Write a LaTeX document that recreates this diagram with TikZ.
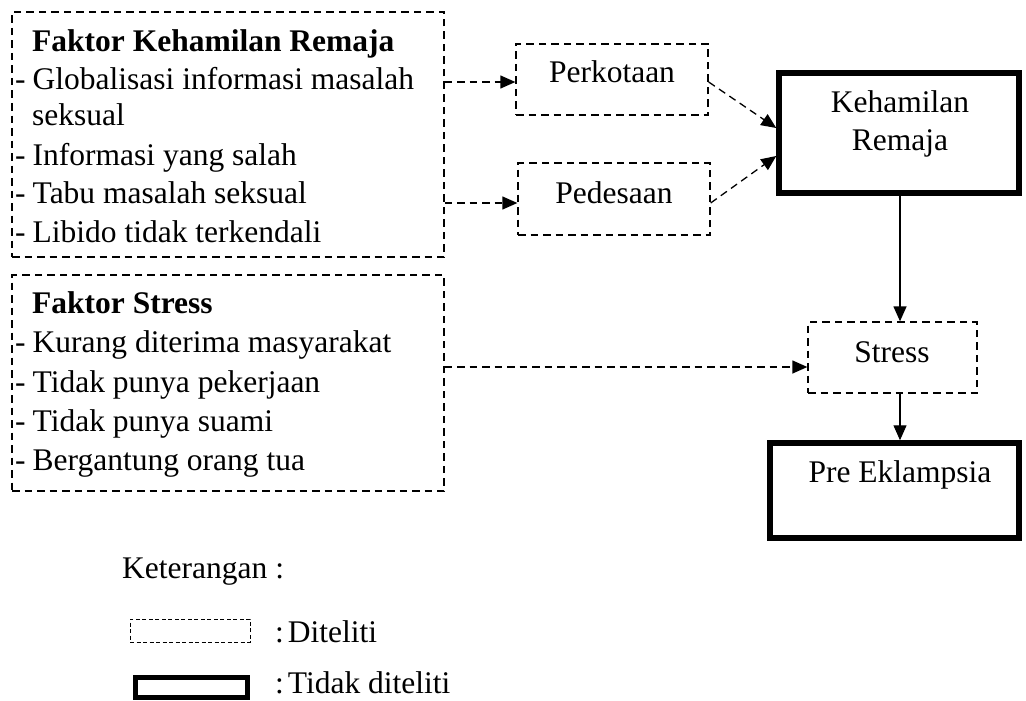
\documentclass[tikz,border=0pt]{standalone}
\usepackage{fontspec}
\setmainfont{Liberation Serif}
\usetikzlibrary{arrows.meta}
\begin{document}
\begin{tikzpicture}[x=1pt,y=-1pt,
  every node/.style={font=\fontsize{31.5}{38}\selectfont, inner sep=0pt},
  txt/.style={anchor=base west},
  ctxt/.style={anchor=base},
  dbox/.style={draw, line width=1.3pt, dash pattern=on 7.5pt off 5pt},
  tbox/.style={draw, line width=5.5pt},
  darr/.style={line width=1.3pt, dash pattern=on 7.5pt off 5pt, -{Triangle[length=15pt,width=13pt]}},
  sarr/.style={line width=1.3pt, -{Triangle[length=15pt,width=13pt]}}]
\useasboundingbox (0,0) rectangle (1026,701);

% left boxes
\node[dbox, minimum width=432pt, minimum height=245pt] (box1) at (228,134.5) {};
\node[dbox, minimum width=432pt, minimum height=216pt] (box2) at (228,383) {};

\node[txt] (t1) at (32,52) {\textbf{Faktor Kehamilan Remaja}};
\node[txt] (t1a) at (15,89) {-\hspace{7pt}Globalisasi informasi masalah};
\node[txt] (t1b) at (32,125) {seksual};
\node[txt] (t1c) at (15,165) {-\hspace{7pt}Informasi yang salah};
\node[txt] (t1d) at (15,203) {-\hspace{7pt}Tabu masalah seksual};
\node[txt] (t1e) at (15,242) {-\hspace{7pt}Libido tidak terkendali};

\node[txt] (t2) at (32,313) {\textbf{Faktor Stress}};
\node[txt] (t2a) at (15,352) {-\hspace{7pt}Kurang diterima masyarakat};
\node[txt] (t2b) at (15,392) {-\hspace{7pt}Tidak punya pekerjaan};
\node[txt] (t2c) at (15,431) {-\hspace{7pt}Tidak punya suami};
\node[txt] (t2d) at (15,470) {-\hspace{7pt}Bergantung orang tua};

% middle boxes
\node[dbox, minimum width=192pt, minimum height=71pt] (perk) at (612,79.5) {};
\node[ctxt] (perkT) at (612,83) {Perkotaan};
\node[dbox, minimum width=192pt, minimum height=72pt] (pedes) at (614,199) {};
\node[ctxt] (pedesT) at (614,203) {Pedesaan};

% right boxes
\node[tbox, minimum width=240pt, minimum height=120pt] (keh) at (899,133) {};
\node[ctxt] (kehT1) at (900,113) {Kehamilan};
\node[ctxt] (kehT2) at (900,150) {Remaja};

\node[dbox, minimum width=169pt, minimum height=71pt] (stress) at (892.5,357.5) {};
\node[ctxt] (stressT) at (892,362) {Stress};

\node[tbox, minimum width=249pt, minimum height=95pt] (pre) at (894.5,490.5) {};
\node[ctxt] (preT) at (900,482) {Pre Eklampsia};

% connectors
\draw[darr] (box1.east |- 0,82) -- (perk.west |- 0,82);
\draw[darr] (box1.east |- 0,203) -- (pedes.west |- 0,203);
\draw[darr] (perk.east |- 0,82) -- (keh.west |- 0,128);
\draw[darr] (pedes.east |- 0,203) -- (keh.west |- 0,156);
\draw[darr] (box2.east |- 0,367) -- (stress.west |- 0,367);
\draw[sarr] (keh.south -| 900,0) -- (stress.north -| 900,0);
\draw[sarr] (stress.south -| 900,0) -- (pre.north -| 900,0);

% legend
\node[txt] (ket) at (122,578) {Keterangan :};
\node[draw, line width=0.9pt, dash pattern=on 4pt off 2.5pt, minimum width=120pt, minimum height=23pt] (legD) at (190,630.5) {};
\node[txt] (legDT) at (275,642) {:\hspace{4pt}Diteliti};
\node[draw, line width=5pt, minimum width=112pt, minimum height=20pt] (legT) at (191,687) {};
\node[txt] (legTT) at (275,693) {:\hspace{4pt}Tidak diteliti};
\end{tikzpicture}
\end{document}
